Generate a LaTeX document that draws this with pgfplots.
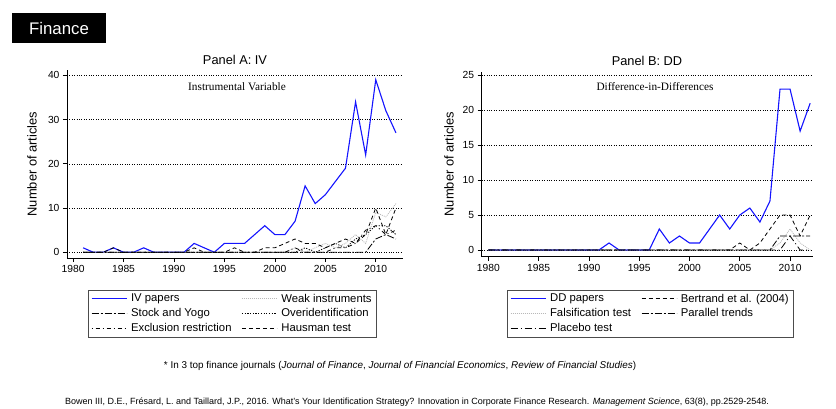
\documentclass[border=0pt]{standalone}
\usepackage{pgfplots}
\pgfplotsset{compat=1.18}
\usepackage{fontspec}
\setmainfont{Liberation Sans}
\newfontfamily\seriffont{Liberation Serif}

\pgfplotstableread{
year iv weak stock overid excl haus
1981 1 0 0 0 0 0
1982 0 0 0 0 0 0
1983 0 0 0 0 0 0
1984 1 0 0 0 0 1
1985 0 0 0 0 0 0
1986 0 0 0 0 0 0
1987 1 0 0 0 0 0
1988 0 0 0 0 0 0
1989 0 0 0 0 0 0
1990 0 0 0 0 0 0
1991 0 0 0 0 0 0
1992 2 0 0 0 0 1
1993 1 0 0 0 0 0
1994 0 0 0 0 0 0
1995 2 0 0 0 0 0
1996 2 0 0 0 0 1
1997 2 0 0 0 0 0
1998 4 0 0 0 0 0
1999 6 0 0 0 0 1
2000 4 0 0 0 0 1
2001 4 0 0 0 0 2
2002 7 1 0 0 1 3
2003 15 0 0 1 0 2
2004 11 1 0 0 0 2
2005 13 2 0 1 0 1
2006 16 1 0 2 1 2
2007 19 2 0 1 1 3
2008 34 4 0 3 2 2
2009 22 2 0 4 5 4
2010 39 9 3 6 6 10
2011 32 8 4 6 4 4
2012 27 11 3 4 5 10
}\tableA

\pgfplotstableread{
year dd fals bert par plac
1980 0 0 0 0 0
1981 0 0 0 0 0
1982 0 0 0 0 0
1983 0 0 0 0 0
1984 0 0 0 0 0
1985 0 0 0 0 0
1986 0 0 0 0 0
1987 0 0 0 0 0
1988 0 0 0 0 0
1989 0 0 0 0 0
1990 0 0 0 0 0
1991 0 0 0 0 0
1992 1 0 0 0 0
1993 0 0 0 0 0
1994 0 0 0 0 0
1995 0 0 0 0 0
1996 0 0 0 0 0
1997 3 0 0 0 0
1998 1 0 0 0 0
1999 2 0 0 0 0
2000 1 0 0 0 0
2001 1 0 0 0 0
2002 3 0 0 0 0
2003 5 0 0 0 0
2004 3 0 0 0 0
2005 5 0 1 0 0
2006 6 0 0 0 0
2007 4 0 1 0 0
2008 7 0 3 0 0
2009 23 1 5 2 0
2010 23 3 5 2 2
2011 17 1 2 2 0
2012 21 0 5 2 0
}\tableB

\definecolor{ivblue}{RGB}{20,20,255}

\pgfplotsset{
  rstyle/.style={
    scale only axis,
    axis x line*=bottom,
    axis y line*=left,
    axis line style={black, line width=0.6pt},
    tick align=outside,
    major tick length=4pt,
    tick style={black, line width=0.6pt},
    ymajorgrids,
    major grid style={black, dotted, line width=0.5pt},
    xtick={1980,1985,...,2010},
    /pgf/number format/1000 sep={},
    /pgf/number format/assume math mode=true,
    tick label style={font=\fontsize{10.3}{12}\selectfont},
    legend cell align=left,
    legend columns=2,
    legend style={draw=black!70, line width=0.6pt, font=\fontsize{11.3}{13}\selectfont,
      inner xsep=3pt, inner ysep=1pt, row sep=0pt,
      nodes={inner ysep=2.6pt},
      /tikz/every odd column/.append style={column sep=2pt},
      /tikz/every even column/.append style={column sep=8pt}},
    legend image code/.code={%
      \draw[line width=0.8pt, ##1] (0pt,0pt) -- (35pt,0pt);},
  },
  ivline/.style={color=ivblue, line width=1.1pt},
  weakline/.style={gray!55, line width=0.8pt, dash pattern=on 1pt off 1pt},
  stockline/.style={black, line width=0.8pt, dash pattern=on 7pt off 2pt on 2pt off 2pt},
  overidline/.style={black, line width=0.8pt, dash pattern=on 1.2pt off 1.5pt},
  exclline/.style={black, line width=0.8pt, dash pattern=on 1pt off 3pt on 4pt off 3pt},
  hausline/.style={black, line width=0.8pt, dash pattern=on 4pt off 3pt},
  placline/.style={black, line width=0.8pt, dash pattern=on 7pt off 3pt on 1pt off 3pt},
}

\begin{document}
\begin{tikzpicture}
\useasboundingbox (0pt,0pt) rectangle (836pt,408pt);

% Finance header
\fill[black] (12pt,365pt) rectangle (106pt,395pt);
\node[white, font=\fontsize{16.8}{18}\selectfont] at (59pt,380pt) {Finance};

% Panel A
\begin{axis}[rstyle,
  at={(67pt,150pt)}, anchor=south west,
  width=336pt, height=188pt,
  xmin=1979.4, xmax=2012.7, ymin=-1.3, ymax=41.2,
  ytick={0,10,20,30,40},
  legend style={at={(0.0625,-0.17)}, anchor=north west},
]
\addplot[ivline] table[x=year,y=iv] {\tableA};
\addlegendentry{IV papers}
\addplot[weakline] table[x=year,y=weak] {\tableA};
\addlegendentry{Weak instruments}
\addplot[stockline] table[x=year,y=stock] {\tableA};
\addlegendentry{Stock and Yogo}
\addplot[overidline] table[x=year,y=overid] {\tableA};
\addlegendentry{Overidentification}
\addplot[exclline] table[x=year,y=excl] {\tableA};
\addlegendentry{Exclusion restriction}
\addplot[hausline] table[x=year,y=haus] {\tableA};
\addlegendentry{Hausman test}
\end{axis}

% Panel B
\begin{axis}[rstyle,
  at={(481.7pt,151.3pt)}, anchor=south west,
  width=331pt, height=185pt,
  xmin=1979.34, xmax=2012.25, ymin=-0.96, ymax=25.5,
  ytick={0,5,10,15,20,25},
  legend style={at={(0.0764,-0.18)}, anchor=north west},
]
\addplot[ivline] table[x=year,y=dd] {\tableB};
\addlegendentry{DD papers}
\addplot[hausline] table[x=year,y=bert] {\tableB};
\addlegendentry{Bertrand et al. (2004)}
\addplot[weakline] table[x=year,y=fals] {\tableB};
\addlegendentry{Falsification test}
\addplot[stockline] table[x=year,y=par] {\tableB};
\addlegendentry{Parallel trends}
\addplot[placline] table[x=year,y=plac] {\tableB};
\addlegendentry{Placebo test}
\end{axis}

% Titles and labels
\node[font=\fontsize{12.8}{14}\selectfont] at (235pt,348pt) {Panel A: IV};
\node[font=\fontsize{12.8}{14}\selectfont] at (647pt,347pt) {Panel B: DD};
\node[font=\seriffont\fontsize{11.3}{13}\selectfont] at (237pt,321pt) {Instrumental Variable};
\node[font=\seriffont\fontsize{11.3}{13}\selectfont] at (655pt,321pt) {Difference-in-Differences};
\node[rotate=90, font=\fontsize{12.9}{14}\selectfont] at (32pt,244pt) {Number of articles};
\node[rotate=90, font=\fontsize{12.9}{14}\selectfont] at (449pt,244pt) {Number of articles};

% Footnotes
\node[font=\fontsize{9.9}{11}\selectfont] at (400pt,42pt) {* In 3 top finance journals (\textit{Journal of Finance}, \textit{Journal of Financial Economics}, \textit{Review of Financial Studies})};
\node[font=\fontsize{9}{10}\selectfont] at (417pt,6pt) {Bowen III, D.E., Frésard, L. and Taillard, J.P., 2016. What's Your Identification Strategy? Innovation in Corporate Finance Research. \textit{Management Science}, 63(8), pp.2529-2548.};
\end{tikzpicture}
\end{document}
